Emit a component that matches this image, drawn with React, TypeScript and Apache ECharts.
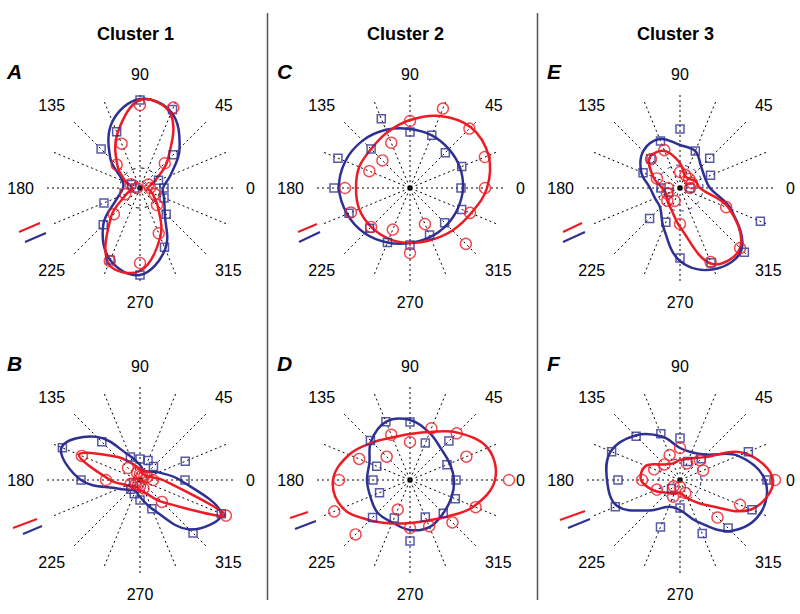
import React, { useEffect, useRef } from "react";
import * as echarts from "echarts";

const FONT = '"Liberation Sans", Arial, Helvetica, sans-serif';
const BLUE = "#2E3192";
const RED = "#ED1C24";

// Directions (degrees) at which each cell was sampled
const ANGLES = [0, 22.5, 45, 67.5, 90, 112.5, 135, 157.5, 180, 202.5, 225, 247.5, 270, 292.5, 315, 337.5];
const ANGLE_LABEL_VALUES = [0, 45, 90, 135, 180, 225, 270, 315];
const COLUMN_TITLES = ["Cluster 1", "Cluster 2", "Cluster 3"];
const PANEL_LETTERS = ["A", "B", "C", "D", "E", "F"];

// Panel A
const blueFitA = [23, 33, 56, 82, 89, 72, 42, 19, 17, 24, 52, 78, 87, 66, 35, 26];
const redFitA = [8, 15, 39, 80, 88, 59, 32, 15, 8, 14, 41, 82, 83, 53, 25, 13];
const blueA = [24, 20, 47, 85, 88, 61, 55, 9, 5, 39, 52, 78, 87, 64, 37, 26];
const redA = [10, 9, 35, 87, 83, 48, 33, 10, 3, 16, 37, 79, 75, 49, 24, 16];
// Panel B
const blueFitB = [40, 20, 12, 10, 15, 26, 61, 85, 59, 23, 14, 12, 17, 31, 70, 88];
const redFitB = [23, 9, 7, 7, 10, 17, 33, 66, 30, 14, 10, 8, 10, 14, 31, 92];
const blueB = [45, 49, 19, 21, 21, 25, 54, 84, 59, 7, 13, 15, 20, 31, 75, 88];
const redB = [13, 8, 6, 5, 6, 8, 17, 63, 34, 10, 6, 5, 6, 9, 31, 93];
// Panel C
const blueFitC = [53, 54, 55, 57, 59, 63, 67, 70, 71, 68, 64, 59, 55, 53, 52, 52];
const redFitC = [77, 85, 86, 78, 68, 60, 55, 55, 54, 55, 55, 55, 55, 56, 60, 66];
const blueC = [51, 56, 50, 57, 56, 75, 55, 78, 76, 66, 57, 59, 57, 51, 49, 56];
const redC = [75, 81, 84, 86, 67, 49, 39, 44, 65, 64, 55, 45, 65, 39, 79, 65];
// Panel D
const blueFitD = [44, 43, 44, 51, 60, 63, 55, 44, 43, 43, 46, 46, 50, 51, 47, 45];
const redFitD = [85, 84, 67, 52, 46, 46, 53, 66, 77, 73, 57, 47, 43, 44, 52, 69];
const blueD = [46, 40, 55, 40, 58, 63, 56, 36, 37, 33, 53, 41, 61, 40, 47, 49];
const redD = [99, 61, 66, 56, 38, 49, 33, 55, 71, 82, 77, 32, 48, 50, 60, 71];
// Panel E
const blueFitE = [30, 27, 30, 40, 43, 53, 52, 42, 30, 27, 28, 43, 73, 88, 87, 55];
const redFitE = [20, 17, 13, 13, 25, 40, 43, 29, 18, 15, 18, 23, 39, 82, 85, 53];
const blueE = [10, 33, 42, 40, 59, 51, 41, 40, 19, 12, 43, 37, 70, 81, 91, 87];
const redE = [10, 13, 13, 14, 16, 41, 41, 25, 12, 14, 18, 14, 36, 80, 85, 50];
// Panel F
const blueFitF = [85, 63, 36, 30, 32, 47, 63, 75, 73, 68, 43, 29, 30, 45, 72, 87];
const redFitF = [93, 70, 32, 23, 20, 18, 22, 37, 39, 28, 18, 15, 13, 20, 35, 77];
const blueF = [87, 74, 30, 20, 42, 50, 62, 74, 62, 70, 12, 51, 28, 58, 68, 78];
const redF = [95, 25, 28, 18, 32, 27, 22, 28, 38, 25, 9, 18, 7, 14, 53, 65];

// dashed reference ring radius per panel (0 = none) and colour
const innerRing = [20, 0, 0, 0, 23, 21];
const innerRingColor = ["#000", "#000", "#000", "#000", BLUE, BLUE];

const BLUE_FITS = [blueFitA, blueFitB, blueFitC, blueFitD, blueFitE, blueFitF];
const RED_FITS = [redFitA, redFitB, redFitC, redFitD, redFitE, redFitF];
const BLUE_POINTS = [blueA, blueB, blueC, blueD, blueE, blueF];
const RED_POINTS = [redA, redB, redC, redD, redE, redF];

// layout
const PANEL_CENTERS = [
  [140, 188], [140, 480], [410, 188], [410, 480], [680, 188], [680, 480],
];
const RADIUS = 93;
// scale bars (relative to panel centre): [x1, y1, x2, y2]
const SCALE_RED = [
  [-121, 44, -100, 35], [-127, 48, -103, 39], [-112, 44, -93, 36],
  [-120, 38, -102, 32], [-117, 44, -98, 35], [-120, 40, -95, 31],
];
const SCALE_BLUE = [
  [-115, 54, -94, 45], [-117, 54, -98, 46], [-111, 54, -90, 44],
  [-115, 49, -94, 41], [-117, 54, -95, 44], [-112, 48, -90, 39],
];

const pts = (vals: number[]) => vals.map((r, i) => [r, ANGLES[i]]);

// closed smooth curve through the polar points, positioned by the polar coordinate system
const loopSeries = (i: number, vals: number[], color: string, width: number, z: number, dash?: number[]) => ({
  type: "custom",
  coordinateSystem: "polar",
  polarIndex: i,
  data: pts(vals),
  clip: false,
  silent: true,
  z,
  renderItem: (params: any, api: any) => {
    if (params.dataIndexInside !== 0) return null;
    const points: number[][] = [];
    for (let j = 0; j < params.dataInsideLength; j++) {
      points.push(api.coord([api.value(0, j), api.value(1, j)]));
    }
    return {
      type: "polygon",
      shape: { points, smooth: 0.38 },
      style: { fill: "none", stroke: color, lineWidth: width, lineDash: dash || null },
    };
  },
});

export default function App() {
  const ref = useRef<HTMLDivElement>(null);
  useEffect(() => {
    if (!ref.current) return;
    const chart = echarts.init(ref.current, undefined, { renderer: "svg" });

    const series: any[] = [];
    for (let i = 0; i < 6; i++) {
      if (innerRing[i] > 0) {
        series.push(loopSeries(i, ANGLES.map(() => innerRing[i]), innerRingColor[i], 1, 2, [4, 5]));
      }
      series.push(loopSeries(i, BLUE_FITS[i], BLUE, 2.5, 3));
      series.push(loopSeries(i, RED_FITS[i], RED, 2.5, 4));
      series.push({
        type: "scatter", coordinateSystem: "polar", polarIndex: i,
        data: pts(BLUE_POINTS[i]), symbol: "rect", symbolSize: 8, clip: false, silent: true, z: 5,
        itemStyle: { color: "rgba(255,255,255,0)", borderColor: BLUE, borderWidth: 1.5 },
      });
      series.push({
        type: "scatter", coordinateSystem: "polar", polarIndex: i,
        data: pts(RED_POINTS[i]), symbol: "circle", symbolSize: 11, clip: false, silent: true, z: 6,
        itemStyle: { color: "rgba(255,255,255,0)", borderColor: RED, borderWidth: 1.4 },
      });
      series.push({
        type: "scatter", coordinateSystem: "polar", polarIndex: i,
        data: [[0, 0]], symbol: "rect", symbolSize: 4, clip: false, silent: true, z: 1,
        itemStyle: { color: "#000" },
      });
    }

    const graphic: any[] = [];
    COLUMN_TITLES.forEach((t, c) => {
      graphic.push({
        type: "text", x: PANEL_CENTERS[c * 2][0] - 4.5, y: 34,
        style: { text: t, fill: "#000", fontSize: 18, fontWeight: "bold", fontFamily: FONT, align: "center", verticalAlign: "middle" },
      });
    });
    PANEL_LETTERS.forEach((l, i) => {
      const [cx, cy] = PANEL_CENTERS[i];
      graphic.push({
        type: "text", x: cx - 133, y: cy - 117,
        style: { text: l, fill: "#000", fontSize: 21, fontWeight: "bold", fontStyle: "italic", fontFamily: FONT, align: "left", verticalAlign: "middle" },
      });
      const r = SCALE_RED[i], b = SCALE_BLUE[i];
      graphic.push({
        type: "line", shape: { x1: cx + r[0], y1: cy + r[1], x2: cx + r[2], y2: cy + r[3] },
        style: { stroke: RED, lineWidth: 2 },
      });
      graphic.push({
        type: "line", shape: { x1: cx + b[0], y1: cy + b[1], x2: cx + b[2], y2: cy + b[3] },
        style: { stroke: BLUE, lineWidth: 2 },
      });
    });
    [267.5, 537.5].forEach((x) => {
      graphic.push({
        type: "line", shape: { x1: x, y1: 13, x2: x, y2: 600 },
        style: { stroke: "#555", lineWidth: 1.5 },
      });
    });

    chart.setOption({
      animation: false,
      backgroundColor: "#fff",
      polar: PANEL_CENTERS.map((c) => ({ center: c, radius: RADIUS })),
      angleAxis: PANEL_CENTERS.map((_, i) => ({
        polarIndex: i, type: "value", min: 0, max: 360, interval: 22.5,
        startAngle: 0, clockwise: false,
        axisLine: { show: false }, axisTick: { show: false },
        splitLine: { show: true, lineStyle: { color: "#000", width: 1, type: [2, 3] } },
        axisLabel: {
          show: true, margin: 13, fontSize: 16, color: "#000", fontFamily: FONT,
          formatter: (v: number) => (ANGLE_LABEL_VALUES.includes(v) ? String(v) : ""),
        },
      })),
      radiusAxis: PANEL_CENTERS.map((_, i) => ({
        polarIndex: i, type: "value", min: 0, max: RADIUS, show: false,
      })),
      series,
      graphic,
    });
    return () => chart.dispose();
  }, []);
  return (
    <div
      ref={ref}
      style={{ position: "fixed", left: 0, top: 0, width: 800, height: 614, background: "#fff" }}
    />
  );
}
